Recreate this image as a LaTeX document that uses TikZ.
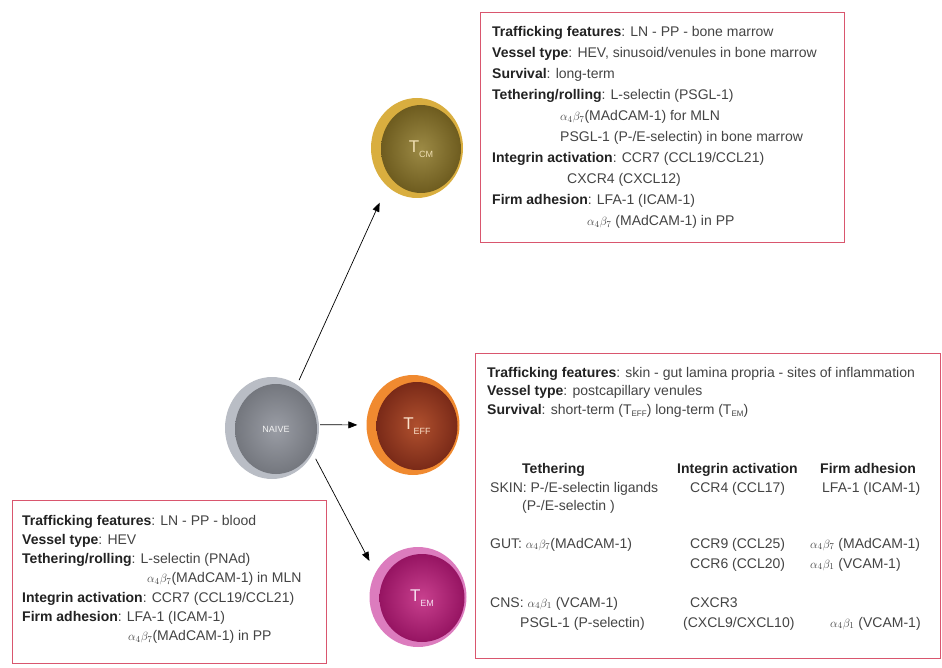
\documentclass[tikz,border=0pt]{standalone}
\usepackage{fontspec}
\setmainfont{Liberation Sans}
\usetikzlibrary{arrows.meta,shapes.geometric}
\definecolor{boxred}{HTML}{D9566E}
\definecolor{txtgray}{HTML}{444444}
\definecolor{bldblack}{HTML}{222222}
\definecolor{cmout}{HTML}{D9AE3F}
\definecolor{cmin}{HTML}{9C8A45}
\definecolor{cmedge}{HTML}{6E5C1F}
\definecolor{nvout}{HTML}{B9BDC5}
\definecolor{nvin}{HTML}{9A9DA5}
\definecolor{nvedge}{HTML}{74777E}
\definecolor{efout}{HTML}{F08A30}
\definecolor{efin}{HTML}{B0502E}
\definecolor{efedge}{HTML}{7A2A18}
\definecolor{emout}{HTML}{DC7CBE}
\definecolor{emin}{HTML}{C8408E}
\definecolor{emedge}{HTML}{961462}
\newcommand{\ab}[2]{{\fontsize{12.5}{12.5}\selectfont$\alpha_{#1}\beta_{#2}$}}
\newcommand{\bl}[1]{\textbf{\color{bldblack}#1}}
\begin{document}
\begin{tikzpicture}[x=1pt,y=-1pt,
  txt/.style={anchor=base west,inner sep=0pt,text=txtgray,font=\fontsize{14}{16}\selectfont},
  infobox/.style={draw=boxred,line width=1.2pt,fill=white,inner sep=0pt},
  cellout/.style={ellipse,inner sep=0pt,minimum width=#1},
  arr/.style={-{Triangle[length=9pt,width=7pt]},line width=0.7pt,black}]
\useasboundingbox (0,0) rectangle (942,668);
% boxes
\node[infobox,anchor=north west,minimum width=364,minimum height=230] (cmbox) at (480,12) {};
\node[infobox,anchor=north west,minimum width=465,minimum height=305] (efbox) at (475,353) {};
\node[infobox,anchor=north west,minimum width=314,minimum height=163] (nvbox) at (12,500) {};
% cells
\node[cellout=92,minimum height=100,fill=cmout] (tcm) at (417,148) {};
\node[ellipse,minimum width=80,minimum height=88,inner sep=0pt,inner color=cmin,outer color=cmedge,text=cmout!40!white] (tcmin) at (421,149) {\fontsize{17}{17}\selectfont T\raisebox{-0.5ex}{\fontsize{9}{9}\selectfont CM}};
\node[cellout=94,minimum height=102,fill=nvout] (naive) at (272,428) {};
\node[ellipse,minimum width=82,minimum height=90,inner sep=0pt,inner color=nvin,outer color=nvedge,text=white!90!gray] (naivein) at (276,429) {\fontsize{9}{9}\selectfont NAIVE};
\node[cellout=93,minimum height=100,fill=efout] (teff) at (413,425) {};
\node[ellipse,minimum width=81,minimum height=88,inner sep=0pt,inner color=efin,outer color=efedge,text=efout!25!white] (teffin) at (417,426) {\fontsize{17}{17}\selectfont T\raisebox{-0.5ex}{\fontsize{9}{9}\selectfont EFF}};
\node[cellout=97,minimum height=100,fill=emout] (tem) at (418,597) {};
\node[ellipse,minimum width=85,minimum height=88,inner sep=0pt,inner color=emin,outer color=emedge,text=emout!25!white] (temin) at (422,598) {\fontsize{17}{17}\selectfont T\raisebox{-0.5ex}{\fontsize{9}{9}\selectfont EM}};
% arrows
\draw[arr,shorten <=5pt,shorten >=18pt] (naive.60) -- (tcm.232);
\draw[arr,shorten <=1pt,shorten >=9pt] (naive.4) -- (teff.180);
\draw[arr,shorten <=6pt,shorten >=13pt] (naive.-32) -- (tem.150);
% TCM text
\node[txt] (c1) at (492,37) {\bl{Trafficking features}: LN - PP - bone marrow};
\node[txt] (c2) at (492,58) {\bl{Vessel type}: HEV, sinusoid/venules in bone marrow};
\node[txt] (c3) at (492,79) {\bl{Survival}: long-term};
\node[txt] (c4) at (492,100) {\bl{Tethering/rolling}: L-selectin (PSGL-1)};
\node[txt] (c5) at (560,121) {\ab{4}{7}(MAdCAM-1) for MLN};
\node[txt] (c6) at (560,142) {PSGL-1 (P-/E-selectin) in bone marrow};
\node[txt] (c7) at (492,163) {\bl{Integrin activation}: CCR7 (CCL19/CCL21)};
\node[txt] (c8) at (567,184) {CXCR4 (CXCL12)};
\node[txt] (c9) at (492,205) {\bl{Firm adhesion}: LFA-1 (ICAM-1)};
\node[txt] (c10) at (587,226) {\ab{4}{7} (MAdCAM-1) in PP};
% TEFF/TEM text
\node[txt] (e1) at (487,377) {\bl{Trafficking features}: skin - gut lamina propria - sites of inflammation};
\node[txt] (e2) at (487,395.5) {\bl{Vessel type}: postcapillary venules};
\node[txt] (e3) at (487,414) {\bl{Survival}: short-term (T\raisebox{-0.3ex}{\fontsize{8}{8}\selectfont EFF}) long-term (T\raisebox{-0.3ex}{\fontsize{8}{8}\selectfont EM})};
\node[txt] (h1) at (522,473) {\bl{Tethering}};
\node[txt] (h2) at (677,473) {\bl{Integrin activation}};
\node[txt] (h3) at (820,473) {\bl{Firm adhesion}};
\node[txt] (s1) at (490,492) {SKIN: P-/E-selectin ligands};
\node[txt] (s2) at (522,510) {(P-/E-selectin )};
\node[txt] (s3) at (690,492) {CCR4 (CCL17)};
\node[txt] (s4) at (822,492) {LFA-1 (ICAM-1)};
\node[txt] (g1) at (490,548) {GUT: \ab{4}{7}(MAdCAM-1)};
\node[txt] (g2) at (690,548) {CCR9 (CCL25)};
\node[txt] (g3) at (690,568) {CCR6 (CCL20)};
\node[txt] (g4) at (810,548) {\ab{4}{7} (MAdCAM-1)};
\node[txt] (g5) at (810,568) {\ab{4}{1} (VCAM-1)};
\node[txt] (n1) at (490,607) {CNS: \ab{4}{1} (VCAM-1)};
\node[txt] (n2) at (520,627) {PSGL-1 (P-selectin)};
\node[txt] (n3) at (690,607) {CXCR3};
\node[txt] (n4) at (683,627) {(CXCL9/CXCL10)};
\node[txt] (n5) at (830,627) {\ab{4}{1} (VCAM-1)};
% NAIVE text
\node[txt] (v1) at (22,525) {\bl{Trafficking features}: LN - PP - blood};
\node[txt] (v2) at (22,544.3) {\bl{Vessel type}: HEV};
\node[txt] (v3) at (22,563.6) {\bl{Tethering/rolling}: L-selectin (PNAd)};
\node[txt] (v4) at (147,582.9) {\ab{4}{7}(MAdCAM-1) in MLN};
\node[txt] (v5) at (22,602.2) {\bl{Integrin activation}: CCR7 (CCL19/CCL21)};
\node[txt] (v6) at (22,621.5) {\bl{Firm adhesion}: LFA-1 (ICAM-1)};
\node[txt] (v7) at (128,640.8) {\ab{4}{7}(MAdCAM-1) in PP};
\end{tikzpicture}
\end{document}
